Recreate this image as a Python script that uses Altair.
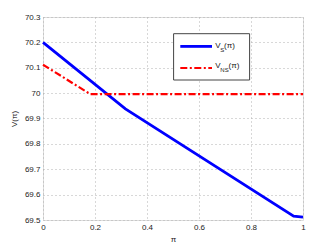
import altair as alt
import pandas as pd

# Data
pi_s = [0.0, 0.317, 0.964, 1.0]
v_s = [70.2, 69.938, 69.515, 69.511]
pi_ns = [0.0, 0.182, 1.0]
v_ns = [70.112, 69.996, 69.996]

x_ticks = [0, 0.2, 0.4, 0.6, 0.8, 1]
y_ticks = [69.5, 69.6, 69.7, 69.8, 69.9, 70.0, 70.1, 70.2, 70.3]

FONT = "Liberation Sans"
W, H = 260, 203

df_s = pd.DataFrame({"pi": pi_s, "v": v_s})
df_ns = pd.DataFrame({"pi": pi_ns, "v": v_ns})

xscale = alt.Scale(domain=[0, 1], nice=False, zero=False)
yscale = alt.Scale(domain=[69.5, 70.3], nice=False, zero=False)

xaxis = alt.Axis(values=x_ticks, labelExpr="format(datum.value, '~g')", grid=True,
                 gridDash=[1, 3], gridColor="#b0b0b0", ticks=False, domain=False,
                 labelOverlap=False, labelBound=False, labelFlush=False,
                 labelFontSize=8, labelFont=FONT, labelColor="#222", labelPadding=3,
                 title="π", titleFontSize=8, titleFont=FONT, titleFontWeight="normal",
                 titlePadding=4, titleColor="#222")
yaxis = alt.Axis(values=y_ticks, labelExpr="format(datum.value, '.3~g')", grid=True,
                 gridDash=[1, 3], gridColor="#b0b0b0", ticks=False, domain=False,
                 labelOverlap=False, labelBound=False, labelFlush=False,
                 labelFontSize=8, labelFont=FONT, labelColor="#222", labelPadding=3,
                 title="V(π)", titleFontSize=8, titleFont=FONT, titleFontWeight="normal",
                 titlePadding=6, titleColor="#222")

line_s = alt.Chart(df_s).mark_line(color="#0000FF", strokeWidth=2.8).encode(
    x=alt.X("pi:Q", scale=xscale, axis=xaxis),
    y=alt.Y("v:Q", scale=yscale, axis=yaxis),
)
line_ns = alt.Chart(df_ns).mark_line(color="#FF0000", strokeWidth=2.2,
                                     strokeDash=[7, 2.5, 2, 2.5]).encode(
    x=alt.X("pi:Q", scale=xscale, axis=xaxis),
    y=alt.Y("v:Q", scale=yscale, axis=yaxis),
)

# Legend box (manual, MATLAB style)
one = pd.DataFrame({"a": [0]})
box = alt.Chart(one).mark_rect(fill="white", stroke="#444", strokeWidth=1).encode(
    x=alt.value(130.6), x2=alt.value(206.6), y=alt.value(16.7), y2=alt.value(63)
)
leg_s = alt.Chart(one).mark_rule(color="#0000FF", strokeWidth=2.8).encode(
    x=alt.value(137.3), x2=alt.value(169), y=alt.value(29.4)
)
leg_ns = alt.Chart(one).mark_rule(color="#FF0000", strokeWidth=2.2,
                                  strokeDash=[7, 2.5, 2, 2.5]).encode(
    x=alt.value(137.3), x2=alt.value(169), y=alt.value(51)
)

def txt(t, x, y, size):
    return alt.Chart(one).mark_text(text=t, align="left", baseline="middle",
                                    font=FONT, fontSize=size, color="#222").encode(
        x=alt.value(x), y=alt.value(y))

labels = [
    txt("V", 172.3, 28.7, 8), txt("S", 177.3, 33.2, 6), txt("(π)", 181.0, 28.7, 8),
    txt("V", 172.3, 48.7, 8), txt("NS", 177.3, 53.2, 6), txt("(π)", 185.5, 48.7, 8),
]

chart = alt.layer(line_s, line_ns, box, leg_s, leg_ns, *labels).properties(
    width=W, height=H,
    autosize=alt.AutoSizeParams(type="none"),
    padding={"left": 35, "top": 9, "right": 21, "bottom": 22},
).configure_view(stroke="#222", strokeWidth=1).configure(background="white")

chart.save("out.html", embed_options={"renderer": "svg", "actions": False})
